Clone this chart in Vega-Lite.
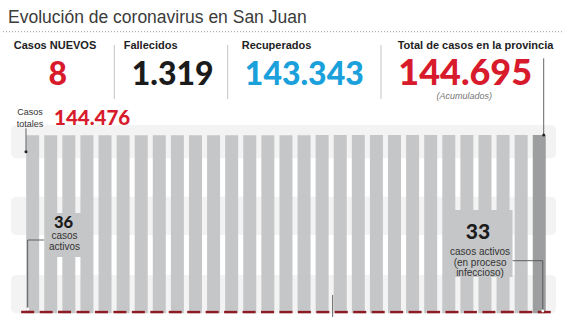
{
  "$schema": "https://vega.github.io/schema/vega-lite/v6.json",
  "width": 563,
  "height": 317,
  "autosize": {"type": "fit", "contains": "padding"},
  "padding": 0,
  "background": "white",
  "config": {
    "view": {"stroke": null},
    "locale": {"number": {"decimal": ",", "thousands": ".", "grouping": [3], "currency": ["$", ""]}},
    "text": {"font": "Liberation Sans"}
  },
  "datasets": {
    "diario": [
      {"dia": 1, "total": 144476, "activos": 36},
      {"dia": 2, "total": 144484, "activos": 38},
      {"dia": 3, "total": 144491, "activos": 37},
      {"dia": 4, "total": 144500, "activos": 39},
      {"dia": 5, "total": 144507, "activos": 40},
      {"dia": 6, "total": 144515, "activos": 38},
      {"dia": 7, "total": 144522, "activos": 41},
      {"dia": 8, "total": 144531, "activos": 39},
      {"dia": 9, "total": 144539, "activos": 37},
      {"dia": 10, "total": 144546, "activos": 36},
      {"dia": 11, "total": 144554, "activos": 38},
      {"dia": 12, "total": 144562, "activos": 35},
      {"dia": 13, "total": 144569, "activos": 34},
      {"dia": 14, "total": 144577, "activos": 36},
      {"dia": 15, "total": 144585, "activos": 37},
      {"dia": 16, "total": 144593, "activos": 35},
      {"dia": 17, "total": 144600, "activos": 33},
      {"dia": 18, "total": 144608, "activos": 34},
      {"dia": 19, "total": 144616, "activos": 36},
      {"dia": 20, "total": 144624, "activos": 35},
      {"dia": 21, "total": 144632, "activos": 34},
      {"dia": 22, "total": 144640, "activos": 33},
      {"dia": 23, "total": 144647, "activos": 35},
      {"dia": 24, "total": 144655, "activos": 34},
      {"dia": 25, "total": 144663, "activos": 33},
      {"dia": 26, "total": 144671, "activos": 32},
      {"dia": 27, "total": 144679, "activos": 34},
      {"dia": 28, "total": 144687, "activos": 35},
      {"dia": 29, "total": 144695, "activos": 33}
    ],
    "franjas": [
      {"desde": 0, "hasta": 31000},
      {"desde": 63500, "hasta": 94600},
      {"desde": 125800, "hasta": 152800}
    ],
    "indicadores": [
      {"orden": 1, "indicador": "Casos NUEVOS", "cifra": 8},
      {"orden": 2, "indicador": "Fallecidos", "cifra": 1319},
      {"orden": 3, "indicador": "Recuperados", "cifra": 143343},
      {"orden": 4, "indicador": "Total de casos en la provincia", "cifra": 144695, "nota": "(Acumulados)"}
    ]
  },
  "resolve": {"scale": {"x": "independent", "y": "independent", "color": "independent", "size": "independent"}},
  "layer": [
    {
      "data": {"name": "franjas"},
      "mark": {"type": "rect", "color": "#f3f3f3", "cornerRadius": 5},
      "encoding": {
        "x": {"datum": 0.1, "type": "quantitative", "scale": {"domain": [1, 29], "range": [26.65, 543.25], "nice": false, "zero": false}, "axis": null},
        "x2": {"datum": 29.64},
        "y": {"field": "desde", "type": "quantitative", "scale": {"domain": [0, 144695], "range": [313.3, 135], "nice": false, "zero": false}, "axis": null},
        "y2": {"field": "hasta"}
      }
    },
    {
      "data": {"name": "diario"},
      "mark": {"type": "bar", "width": 13},
      "encoding": {
        "x": {"field": "dia", "type": "quantitative", "scale": {"domain": [1, 29], "range": [26.65, 543.25], "nice": false, "zero": false}, "axis": null},
        "y": {"field": "total", "type": "quantitative", "scale": {"domain": [0, 144695], "range": [313.3, 135], "nice": false, "zero": false}, "axis": null},
        "color": {"condition": {"test": "datum.dia === 29", "value": "#9d9e9f"}, "value": "#c5c6c7"}
      }
    },
    {
      "data": {"name": "diario"},
      "mark": {"type": "tick", "orient": "horizontal", "size": 13, "thickness": 2.4, "yOffset": -1.2, "color": "#8e1b24", "opacity": 1},
      "encoding": {
        "x": {"field": "dia", "type": "quantitative", "scale": {"domain": [1, 29], "range": [26.65, 543.25], "nice": false, "zero": false}, "axis": null},
        "y": {"field": "activos", "type": "quantitative", "scale": {"domain": [0, 144695], "range": [313.3, 135], "nice": false, "zero": false}, "axis": null}
      }
    },
    {
      "data": {"values": [{"caja": "inicio", "x1": 1.995, "x2": 4.0, "y1": 45687, "y2": 81393}, {"caja": "fin", "x1": 23.675, "x2": 27.28, "y1": 29463, "y2": 83882}]},
      "mark": {"type": "rect", "color": "#c5c6c7"},
      "encoding": {
        "x": {"field": "x1", "type": "quantitative", "scale": {"domain": [1, 29], "range": [26.65, 543.25], "nice": false, "zero": false}, "axis": null},
        "x2": {"field": "x2"},
        "y": {"field": "y1", "type": "quantitative", "scale": {"domain": [0, 144695], "range": [313.3, 135], "nice": false, "zero": false}, "axis": null},
        "y2": {"field": "y2"}
      }
    },
    {
      "data": {"values": [
        {"x1": 0.91, "x2": 0.91, "y1": 150128, "y2": 131138},
        {"x1": 1.0, "x2": 1.0, "y1": 59482, "y2": 3489},
        {"x1": 1.0, "x2": 1.886, "y1": 59482, "y2": 59482},
        {"x1": 27.29, "x2": 28.92, "y1": 42685, "y2": 42685},
        {"x1": 28.92, "x2": 28.92, "y1": 42685, "y2": 1866},
        {"x1": 28.97, "x2": 28.97, "y1": 206933, "y2": 144695},
        {"x1": 17.53, "x2": 17.53, "y1": 14850, "y2": -3000}
      ]},
      "mark": {"type": "rule", "color": "#555555", "strokeWidth": 0.9},
      "encoding": {
        "x": {"field": "x1", "type": "quantitative", "scale": {"domain": [1, 29], "range": [26.65, 543.25], "nice": false, "zero": false}, "axis": null},
        "x2": {"field": "x2"},
        "y": {"field": "y1", "type": "quantitative", "scale": {"domain": [0, 144695], "range": [313.3, 135], "nice": false, "zero": false}, "axis": null},
        "y2": {"field": "y2"}
      }
    },
    {
      "data": {"values": [{"x": 0.91, "y": 131138}, {"x": 28.97, "y": 144695}]},
      "mark": {"type": "point", "filled": true, "size": 9, "color": "#222222", "opacity": 1},
      "encoding": {
        "x": {"field": "x", "type": "quantitative", "scale": {"domain": [1, 29], "range": [26.65, 543.25], "nice": false, "zero": false}, "axis": null},
        "y": {"field": "y", "type": "quantitative", "scale": {"domain": [0, 144695], "range": [313.3, 135], "nice": false, "zero": false}, "axis": null}
      }
    },
    {
      "data": {"values": [{"x": 1.0, "y": 3489}, {"x": 28.92, "y": 1866}]},
      "mark": {"type": "point", "filled": true, "size": 8, "color": "#ffffff", "opacity": 1},
      "encoding": {
        "x": {"field": "x", "type": "quantitative", "scale": {"domain": [1, 29], "range": [26.65, 543.25], "nice": false, "zero": false}, "axis": null},
        "y": {"field": "y", "type": "quantitative", "scale": {"domain": [0, 144695], "range": [313.3, 135], "nice": false, "zero": false}, "axis": null}
      }
    },
    {
      "data": {"values": [{"texto": "Casos\ntotales"}]},
      "mark": {"type": "text", "align": "center", "baseline": "alphabetic", "fontSize": 9, "lineBreak": "\n", "lineHeight": 12, "color": "#333333"},
      "encoding": {
        "text": {"field": "texto"},
        "x": {"datum": 1.127, "type": "quantitative", "scale": {"domain": [1, 29], "range": [26.65, 543.25], "nice": false, "zero": false}, "axis": null},
        "y": {"datum": 160920, "type": "quantitative", "scale": {"domain": [0, 144695], "range": [313.3, 135], "nice": false, "zero": false}, "axis": null}
      }
    },
    {
      "data": {"name": "diario"},
      "transform": [{"filter": "datum.dia === 1"}],
      "mark": {"type": "text", "align": "left", "baseline": "alphabetic", "font": "Lato", "fontWeight": 900, "fontSize": 20.5, "color": "#d81b2c"},
      "encoding": {
        "text": {"field": "total", "type": "quantitative", "format": ",d"},
        "x": {"datum": 2.43, "type": "quantitative", "scale": {"domain": [1, 29], "range": [26.65, 543.25], "nice": false, "zero": false}, "axis": null},
        "y": {"datum": 152806, "type": "quantitative", "scale": {"domain": [0, 144695], "range": [313.3, 135], "nice": false, "zero": false}, "axis": null}
      }
    },
    {
      "data": {"name": "diario"},
      "transform": [{"filter": "datum.dia === 1"}],
      "mark": {"type": "text", "align": "center", "baseline": "alphabetic", "font": "Lato", "fontWeight": 900, "fontSize": 16.5, "color": "#1b1b1b"},
      "encoding": {
        "text": {"field": "activos", "type": "quantitative"},
        "x": {"datum": 2.943, "type": "quantitative", "scale": {"domain": [1, 29], "range": [26.65, 543.25], "nice": false, "zero": false}, "axis": null},
        "y": {"datum": 69000, "type": "quantitative", "scale": {"domain": [0, 144695], "range": [313.3, 135], "nice": false, "zero": false}, "axis": null}
      }
    },
    {
      "data": {"values": [{"texto": "casos\nactivos"}]},
      "mark": {"type": "text", "align": "center", "baseline": "alphabetic", "fontSize": 10, "lineBreak": "\n", "lineHeight": 11.7, "color": "#333333"},
      "encoding": {
        "text": {"field": "texto"},
        "x": {"datum": 2.997, "type": "quantitative", "scale": {"domain": [1, 29], "range": [26.65, 543.25], "nice": false, "zero": false}, "axis": null},
        "y": {"datum": 60500, "type": "quantitative", "scale": {"domain": [0, 144695], "range": [313.3, 135], "nice": false, "zero": false}, "axis": null}
      }
    },
    {
      "data": {"name": "diario"},
      "transform": [{"filter": "datum.dia === 29"}],
      "mark": {"type": "text", "align": "center", "baseline": "alphabetic", "font": "Lato", "fontWeight": 900, "fontSize": 21, "color": "#1b1b1b"},
      "encoding": {
        "text": {"field": "activos", "type": "quantitative"},
        "x": {"datum": 25.41, "type": "quantitative", "scale": {"domain": [1, 29], "range": [26.65, 543.25], "nice": false, "zero": false}, "axis": null},
        "y": {"datum": 59900, "type": "quantitative", "scale": {"domain": [0, 144695], "range": [313.3, 135], "nice": false, "zero": false}, "axis": null}
      }
    },
    {
      "data": {"values": [{"texto": "casos activos\n(en proceso\ninfeccioso)"}]},
      "mark": {"type": "text", "align": "center", "baseline": "alphabetic", "fontSize": 10, "lineBreak": "\n", "lineHeight": 10.8, "color": "#333333"},
      "encoding": {
        "text": {"field": "texto"},
        "x": {"datum": 25.52, "type": "quantitative", "scale": {"domain": [1, 29], "range": [26.65, 543.25], "nice": false, "zero": false}, "axis": null},
        "y": {"datum": 47500, "type": "quantitative", "scale": {"domain": [0, 144695], "range": [313.3, 135], "nice": false, "zero": false}, "axis": null}
      }
    },
    {
      "data": {"values": [{"titulo": "Evolución de coronavirus en San Juan"}]},
      "mark": {"type": "text", "align": "left", "baseline": "alphabetic", "fontSize": 17.5, "color": "#3b3b3b"},
      "encoding": {
        "text": {"field": "titulo"},
        "x": {"datum": 0, "type": "quantitative", "scale": {"domain": [0, 1], "range": [7, 556], "nice": false, "zero": false}, "axis": null},
        "y": {"datum": 0, "type": "quantitative", "scale": {"domain": [0, 1], "range": [23, 317], "nice": false, "zero": false}, "axis": null}
      }
    },
    {
      "data": {"values": [{"separador": "cabecera"}]},
      "mark": {"type": "rule", "color": "#9a9a9a", "strokeWidth": 1, "strokeDash": [1, 2]},
      "encoding": {
        "y": {"datum": 0, "type": "quantitative", "scale": {"domain": [0, 1], "range": [31.7, 317], "nice": false, "zero": false}, "axis": null}
      }
    },
    {
      "data": {"name": "indicadores"},
      "transform": [{"filter": "datum.orden > 1"}],
      "mark": {"type": "rule", "color": "#c4c4c4", "strokeWidth": 1},
      "encoding": {
        "x": {"field": "orden", "type": "quantitative", "scale": {"domain": [2, 3, 4], "range": [113.3, 226.7, 380], "nice": false, "zero": false}, "axis": null},
        "y": {"datum": 1, "type": "quantitative", "scale": {"domain": [1, 3], "range": [45, 99], "nice": false, "zero": false}, "axis": null},
        "y2": {"datum": 3}
      }
    },
    {
      "data": {"name": "indicadores"},
      "mark": {"type": "text", "align": "left", "baseline": "alphabetic", "fontSize": 11, "fontWeight": "bold", "color": "#222222"},
      "encoding": {
        "text": {"field": "indicador"},
        "x": {"field": "orden", "type": "quantitative", "scale": {"domain": [1, 2, 3, 4], "range": [12.7, 122.7, 240.7, 396.7], "nice": false, "zero": false}, "axis": null},
        "y": {"datum": 1, "type": "quantitative", "scale": {"domain": [1, 2, 3], "range": [48.5, 85, 99], "nice": false, "zero": false}, "axis": null}
      }
    },
    {
      "data": {"name": "indicadores"},
      "mark": {"type": "text", "align": "center", "baseline": "alphabetic", "font": "Lato", "fontWeight": 900},
      "encoding": {
        "text": {"field": "cifra", "type": "quantitative", "format": ",d"},
        "x": {"field": "orden", "type": "quantitative", "scale": {"domain": [1, 2, 3, 4], "range": [56.7, 171.7, 303.3, 464.2], "nice": false, "zero": false}, "axis": null},
        "y": {"datum": 2, "type": "quantitative", "scale": {"domain": [1, 2, 3], "range": [48.5, 85, 99], "nice": false, "zero": false}, "axis": null},
        "color": {"field": "indicador", "type": "nominal", "scale": {"domain": ["Casos NUEVOS", "Fallecidos", "Recuperados", "Total de casos en la provincia"], "range": ["#d81b2c", "#1b1b1b", "#1aa0da", "#d81b2c"]}, "legend": null},
        "size": {"condition": {"test": "datum.orden === 4", "value": 36}, "value": 32}
      }
    },
    {
      "data": {"name": "indicadores"},
      "transform": [{"filter": "isValid(datum.nota)"}],
      "mark": {"type": "text", "align": "center", "baseline": "alphabetic", "fontSize": 9, "fontStyle": "italic", "color": "#777777"},
      "encoding": {
        "text": {"field": "nota"},
        "x": {"field": "orden", "type": "quantitative", "scale": {"domain": [1, 2, 3, 4], "range": [56.7, 171.7, 303.3, 463.3], "nice": false, "zero": false}, "axis": null},
        "y": {"datum": 3, "type": "quantitative", "scale": {"domain": [1, 2, 3], "range": [48.5, 85, 99], "nice": false, "zero": false}, "axis": null}
      }
    }
  ]
}
